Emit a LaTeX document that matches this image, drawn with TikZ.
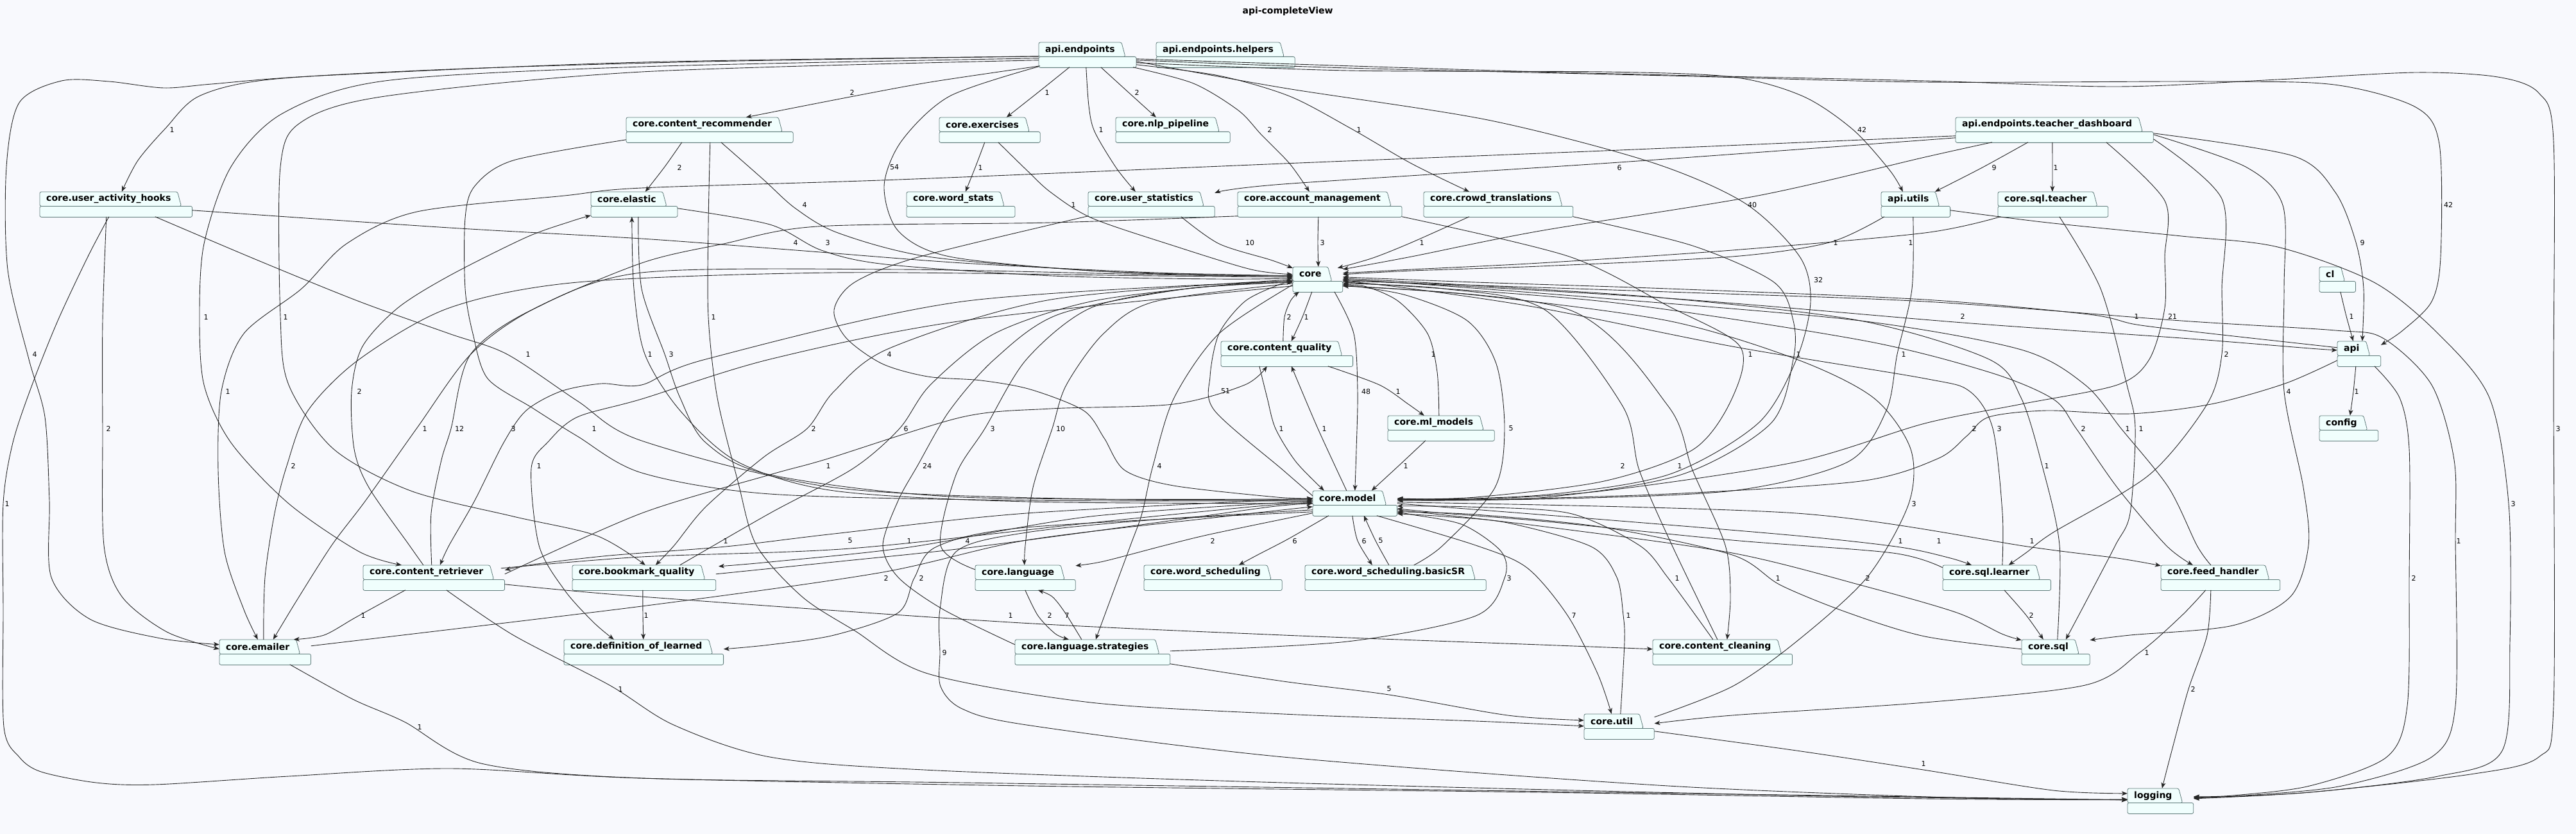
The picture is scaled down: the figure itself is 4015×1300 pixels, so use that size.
\documentclass[tikz,border=0pt]{standalone}
\usepackage{fontspec}
\setmainfont{DejaVu Sans}
\usetikzlibrary{arrows.meta,fit,backgrounds}

\definecolor{bgc}{HTML}{F8F9FD}
\definecolor{pkgfill}{HTML}{F0FEFD}
\definecolor{pkgdraw}{HTML}{5F7B7A}
\definecolor{linec}{HTML}{262626}

\tikzset{
  pkgtab/.style={anchor=north west, inner xsep=0pt, inner ysep=0pt, minimum height=22pt,
    font=\fontsize{14}{16}\selectfont\bfseries},
  pkgline/.style={draw=pkgdraw, fill=pkgfill, line width=0.8pt, rounded corners=2.5pt},
  dep/.style={draw=linec, line width=0.9pt, -{Stealth[length=9pt,width=7pt,inset=2.5pt]}},
  lbl/.style={font=\fontsize{11}{13}\selectfont, inner sep=0pt}
}

\newcommand\pkg[4]{%
  \node[pkgtab] (#1t) at (#2,#3) {\kern10pt#4\kern16pt};
  \coordinate (#1c) at ([shift={(17,17)}]#1t.south east);
  \begin{pgfonlayer}{background}
    \path[pkgline] (#1t.south west) rectangle (#1c);
    \path[pkgline] (#1t.south west) -- (#1t.north west) -- ([xshift=-6pt]#1t.north east) -- (#1t.south east) -- cycle;
  \end{pgfonlayer}
  \node[fit=(#1t)(#1c), inner sep=0pt] (#1) {};
}
\newcommand\nwp[3]{([shift={(#2,#3)}]#1.north west)}
\newcommand\nep[3]{([shift={(#2,#3)}]#1.north east)}
\newcounter{lbn}
\newcommand\dep[5]{%
  \edef\deppath{\noexpand\draw[dep] plot[smooth] coordinates {#1 #2 #3};}\deppath
  \stepcounter{lbn}\node[lbl] (lb\arabic{lbn}) at (#4) {#5};
}

\begin{document}
\begin{tikzpicture}[x=1pt,y=-1pt]
\begin{pgfonlayer}{background}
  \fill[bgc] (0,0) rectangle (4015,1300);
\end{pgfonlayer}
\useasboundingbox (0,0) rectangle (4015,1300);

\node[font=\fontsize{14}{16}\selectfont\bfseries] (title) at (2007,18) {api-completeView};

\pkg{ep}{1619}{66}{api.endpoints}
\pkg{eph}{1802}{66}{api.endpoints.helpers}
\pkg{rec}{976}{183}{core.content\_recommender}
\pkg{ex}{1464}{183}{core.exercises}
\pkg{nlp}{1739}{183}{core.nlp\_pipeline}
\pkg{td}{3048}{183}{api.endpoints.teacher\_dashboard}
\pkg{hooks}{62}{299}{core.user\_activity\_hooks}
\pkg{el}{921}{299}{core.elastic}
\pkg{ws}{1413}{299}{core.word\_stats}
\pkg{us}{1696}{299}{core.user\_statistics}
\pkg{am}{1929}{299}{core.account\_management}
\pkg{ct}{2219}{299}{core.crowd\_translations}
\pkg{au}{2932}{299}{api.utils}
\pkg{sqt}{3114}{299}{core.sql.teacher}
\pkg{core}{2015}{416}{core}
\pkg{cl}{3615}{416}{cl}
\pkg{cq}{1903}{532}{core.content\_quality}
\pkg{api}{3643}{532}{api}
\pkg{ml}{2163}{648}{core.ml\_models}
\pkg{cfg}{3615}{648}{config}
\pkg{model}{2046}{765}{core.model}
\pkg{cr}{566}{881}{core.content\_retriever}
\pkg{bq}{892}{881}{core.bookmark\_quality}
\pkg{lang}{1520}{881}{core.language}
\pkg{wsch}{1783}{881}{core.word\_scheduling}
\pkg{basic}{2034}{881}{core.word\_scheduling.basicSR}
\pkg{sqll}{3028}{881}{core.sql.learner}
\pkg{fh}{3368}{881}{core.feed\_handler}
\pkg{em}{342}{997}{core.emailer}
\pkg{dol}{879}{997}{core.definition\_of\_learned}
\pkg{strat}{1582}{997}{core.language.strategies}
\pkg{cc}{2576}{997}{core.content\_cleaning}
\pkg{sql}{3151}{997}{core.sql}
\pkg{util}{2469}{1113}{core.util}
\pkg{log}{3316}{1229}{logging}

% api.endpoints
\dep{\nwp{ep}{0}{22}}{(1100,96) (700,108) (420,124) (310,150) (258,200) (215,250)}{\nwp{hooks}{128}{0}}{268,202}{1}
\dep{\nwp{ep}{0}{22}}{(1000,97) (500,118) (330,131) (255,137) (170,127) (96,126) (30,160) (10,260) (12,420) (45,560) (70,650) (77,780) (80,900) (140,965) (250,995)}{\nwp{em}{0}{8}}{54,552}{4}
\dep{\nwp{ep}{0}{25}}{(1000,104) (600,126) (440,177) (360,260) (318,380) (311,494) (318,600) (360,690) (450,785) (560,860)}{\nwp{cr}{60}{0}}{321,494}{1}
\dep{\nwp{ep}{0}{28}}{(1000,112) (600,150) (470,190) (437,260) (437,494) (450,600) (520,700) (640,765) (800,805) (930,835)}{\nwp{bq}{114}{0}}{445,494}{1}
\dep{\nwp{ep}{2}{37}}{(1450,128) (1320,152)}{\nwp{rec}{187}{0}}{1328,144}{2}
\dep{\nwp{ep}{0}{38}}{(1480,150) (1405,220) (1378,290) (1400,360) (1480,400) (1700,422) (1900,428)}{\nwp{core}{0}{14}}{1394,261}{54}
\dep{\nwp{ep}{48}{39}}{(1618,144)}{\nwp{ex}{105}{0}}{1632,144}{1}
\dep{\nwp{ep}{97}{39}}{(1760,145)}{\nwp{nlp}{63}{0}}{1772,144}{2}
\dep{\nwp{ep}{74}{39}}{(1697,165) (1706,205) (1740,262)}{\nwp{us}{74}{0}}{1716,202}{1}
\dep{\nep{ep}{-5}{39}}{(1860,130) (1930,172) (1966,210) (2010,255)}{\nwp{am}{112}{0}}{1979,202}{2}
\dep{\nep{ep}{0}{35}}{(1900,118) (2010,150) (2105,200) (2200,255)}{\nwp{ct}{71}{0}}{2118,202}{1}
\dep{\nep{ep}{0}{32}}{(2100,110) (2500,112) (2700,120) (2810,150) (2888,202) (2945,265)}{\nwp{au}{34}{0}}{2902,202}{42}
\dep{\nep{ep}{0}{30}}{(2000,137) (2319,187) (2574,253) (2720,317) (2805,400) (2822,470) (2800,560) (2740,660) (2600,740) (2400,772)}{\nep{model}{0}{14}}{2834,436}{32}
\dep{\nep{ep}{0}{28}}{(2100,106) (2600,118) (3000,128) (3446,127) (3638,132) (3765,167) (3802,225) (3804,400) (3790,470) (3745,515)}{\nep{api}{0}{6}}{3816,319}{42}
\dep{\nep{ep}{0}{26}}{(2400,112) (3000,126) (3300,135) (3550,124) (3765,113) (3893,120) (3957,145) (3980,220) (3980,600) (3980,1100) (3957,1180) (3850,1207) (3600,1235)}{\nep{log}{0}{16}}{3987,668}{3}

% core.content_recommender, core.user_activity_hooks, core.exercises, core.elastic
\dep{\nwp{rec}{87}{39}}{(1036,260)}{\nwp{el}{85}{0}}{1059,261}{2}
\dep{\nwp{rec}{148}{39}}{(1190,280) (1240,325) (1306,363) (1446,400) (1700,422) (1900,430)}{\nwp{core}{0}{16}}{1254,319}{4}
\dep{\nwp{rec}{131}{39}}{(1104,350) (1104,494) (1118,620) (1150,750) (1179,850) (1250,930) (1332,983) (1446,1050) (1700,1095) (2000,1113) (2300,1124)}{\nwp{util}{0}{19}}{1112,494}{1}
\dep{\nwp{rec}{0}{35}}{(800,250) (740,290) (725,340) (725,450) (737,520) (760,590) (830,636) (900,680) (1000,737) (1200,770) (1600,780)}{\nwp{model}{0}{16}}{926,668}{1}
\dep{\nwp{hooks}{104}{39}}{(160,500) (160,668) (162,850) (190,930) (260,985)}{\nwp{em}{0}{15}}{169,668}{2}
\dep{\nwp{hooks}{108}{39}}{(137,400) (90,500) (50,600) (20,690) (5,785) (5,950) (6,1133) (30,1180) (64,1203) (150,1220) (242,1223) (450,1210) (702,1198) (1000,1213) (1600,1225) (2400,1235) (3000,1245)}{\nwp{log}{0}{18}}{11,785}{1}
\dep{\nwp{hooks}{180}{39}}{(400,405) (560,470) (700,520) (790,552) (900,625) (1000,687) (1300,760) (1700,778)}{\nwp{model}{0}{14}}{823,552}{1}
\dep{\nep{hooks}{0}{29}}{(700,355) (1000,372) (1240,390) (1500,410) (1800,425)}{\nwp{core}{0}{14}}{1240,378}{4}
\dep{\nwp{ex}{71}{39}}{(1520,261)}{\nwp{ws}{92}{0}}{1528,261}{1}
\dep{\nwp{ex}{92}{39}}{(1600,265) (1638,300) (1702,340) (1829,383) (1950,420)}{\nwp{core}{0}{12}}{1673,319}{1}
\dep{\nep{el}{0}{26}}{(1200,350) (1280,390) (1380,412) (1640,430) (1900,435)}{\nwp{core}{0}{18}}{1290,378}{3}
\dep{\nwp{el}{74}{39}}{(1000,450) (1036,552) (1060,620) (1100,690) (1200,740) (1500,775)}{\nwp{model}{0}{13}}{1046,552}{3}
\dep{\nwp{model}{0}{20}}{(1600,782) (1300,765) (1150,720) (1060,640) (1005,552) (988,450)}{\nwp{el}{64}{39}}{1013,552}{1}

% user_statistics, account_management, crowd_translations, api.utils
\dep{\nwp{us}{145}{39}}{(1900,380) (1980,405)}{\nwp{core}{0}{2}}{1948,378}{10}
\dep{\nwp{us}{0}{38}}{(1434,400) (1332,440) (1300,483) (1319,527) (1375,567) (1446,587) (1529,593) (1606,607) (1689,640) (1721,683) (1753,733) (1829,757) (1990,775)}{\nwp{model}{0}{12}}{1386,552}{4}
\dep{\nwp{am}{126}{39}}{(2054,378)}{\nwp{core}{40}{0}}{2061,378}{3}
\dep{\nwp{am}{0}{38}}{(1638,347) (1274,353) (1128,380) (1000,410) (829,483) (733,553) (650,667) (570,780) (517,850) (460,940)}{\nwp{em}{84}{0}}{662,668}{1}
\dep{\nep{am}{0}{39}}{(2446,400) (2600,477) (2712,540) (2700,620) (2640,700) (2500,750) (2300,775)}{\nep{model}{0}{13}}{2728,552}{1}
\dep{\nwp{ct}{71}{39}}{(2200,378) (2140,402)}{\nwp{core}{70}{2}}{2216,378}{1}
\dep{\nep{ct}{0}{39}}{(2638,383) (2765,440) (2795,500) (2795,560) (2760,660) (2620,740) (2400,776)}{\nep{model}{0}{15}}{2803,552}{1}
\dep{\nwp{au}{5}{39}}{(2851,378) (2700,400) (2400,415) (2200,422)}{\nep{core}{0}{12}}{2861,378}{1}
\dep{\nwp{au}{50}{39}}{(2980,450) (2957,552) (2940,640) (2880,720) (2700,765) (2400,778)}{\nep{model}{0}{14}}{2967,552}{1}
\dep{\nep{au}{0}{29}}{(3191,347) (3400,368) (3550,385) (3700,440) (3800,520) (3880,620) (3910,785) (3912,1000) (3900,1170) (3800,1210) (3600,1235)}{\nep{log}{0}{15}}{3917,785}{3}

% teacher_dashboard, sql.teacher, cl, api
\dep{\nwp{td}{0}{32}}{(2524,253) (2000,287)}{\nep{us}{0}{2}}{2524,261}{6}
\dep{\nwp{td}{113}{39}}{(3088,262)}{\nwp{au}{84}{0}}{3108,261}{9}
\dep{\nwp{td}{151}{39}}{(3199,261)}{\nwp{sqt}{85}{0}}{3204,261}{1}
\dep{\nwp{td}{57}{39}}{(3000,245) (2740,305) (2400,360) (2200,400)}{\nep{core}{0}{4}}{2731,319}{40}
\dep{\nwp{td}{235}{39}}{(3374,313) (3374,400) (3374,480) (3350,560) (3300,600) (3150,630) (3000,660) (2800,720) (2500,765) (2300,778)}{\nep{model}{0}{12}}{3386,493}{21}
\dep{\nep{td}{0}{34}}{(3463,310) (3463,450) (3463,552) (3440,630) (3350,740) (3200,830) (3160,860)}{\nwp{sqll}{103}{0}}{3470,552}{2}
\dep{\nep{td}{0}{27}}{(3500,260) (3558,320) (3560,450) (3560,610) (3590,760) (3598,850) (3570,930) (3480,975) (3320,990)}{\nep{sql}{0}{1}}{3567,610}{4}
\dep{\nep{td}{0}{25}}{(3574,243) (3640,300) (3672,378) (3684,450)}{\nwp{api}{39}{0}}{3682,378}{9}
\dep{\nwp{sqt}{4}{39}}{(3000,363) (2700,390) (2400,410) (2200,420)}{\nep{core}{0}{10}}{2978,378}{1}
\dep{\nwp{sqt}{96}{39}}{(3274,450) (3315,600) (3328,668) (3320,800) (3297,850) (3250,940)}{\nwp{sql}{69}{0}}{3337,668}{1}
\dep{\nwp{cl}{33}{39}}{(3657,493)}{\nwp{api}{25}{0}}{3665,493}{1}
\dep{\nwp{api}{29}{39}}{(3668,610)}{\nwp{cfg}{48}{0}}{3673,610}{1}
\dep{\nwp{api}{58}{39}}{(3740,620) (3755,700) (3755,900) (3752,1100) (3720,1180) (3600,1225) (3480,1240)}{\nep{log}{0}{13}}{3762,901}{2}
\dep{\nep{core}{0}{20}}{(2600,465) (3059,503) (3400,527) (3600,543)}{\nwp{api}{0}{14}}{3059,493}{2}
\dep{\nwp{api}{0}{10}}{(3446,520) (3330,506) (3255,490) (3000,467) (2600,450) (2300,440)}{\nep{core}{0}{16}}{3330,493}{1}
\dep{\nwp{api}{0}{30}}{(3561,598) (3446,630) (3320,645) (3190,640) (3100,650) (3065,680) (3020,715) (2900,750) (2600,770) (2300,779)}{\nep{model}{0}{15}}{3077,668}{2}

% sql.learner, sql, feed_handler, util
\dep{\nwp{sqll}{93}{0}}{(3121,800) (3106,668) (3070,610) (3000,590) (2700,540) (2400,480) (2200,450)}{\nep{core}{0}{22}}{3116,668}{3}
\dep{\nwp{sqll}{96}{39}}{(3158,959)}{\nwp{sql}{34}{0}}{3166,959}{2}
\dep{\nwp{sql}{56}{0}}{(3210,850) (3183,726) (3150,620) (3100,560) (2900,500) (2600,465) (2300,445)}{\nep{core}{0}{18}}{3190,726}{1}
\dep{\nep{model}{0}{30}}{(2400,820) (2700,862) (2911,915) (3050,955) (3120,988)}{\nwp{sql}{0}{1}}{2911,901}{2}
\dep{\nwp{sql}{0}{15}}{(3000,992) (2880,955) (2775,912) (2700,865) (2500,822) (2300,802)}{\nep{model}{0}{33}}{2771,901}{1}
\dep{\nep{model}{0}{20}}{(2500,810) (2800,835) (2962,853) (3040,870)}{\nwp{sqll}{45}{0}}{2962,843}{1}
\dep{\nwp{sqll}{0}{4}}{(2950,862) (2700,842) (2400,812) (2250,800)}{\nep{model}{0}{28}}{3022,843}{1}
\dep{\nep{model}{0}{18}}{(2800,800) (3167,853) (3300,870)}{\nwp{fh}{0}{1}}{3167,843}{1}
\dep{\nep{core}{0}{24}}{(2500,470) (2900,530) (3100,580) (3200,622) (3236,668) (3300,760) (3376,850)}{\nwp{fh}{50}{0}}{3247,668}{2}
\dep{\nwp{fh}{78}{0}}{(3424,850) (3380,760) (3306,668) (3250,600) (3150,545) (2900,500) (2500,465) (2200,442)}{\nep{core}{0}{20}}{3316,668}{1}
\dep{\nwp{fh}{70}{39}}{(3400,960) (3335,1017) (3250,1068) (3000,1095) (2700,1115)}{\nep{util}{0}{15}}{3346,1017}{1}
\dep{\nwp{fh}{78}{39}}{(3440,990) (3411,1074) (3385,1170)}{\nwp{log}{54}{0}}{3418,1074}{2}
\dep{\nep{util}{0}{27}}{(2800,1170) (2998,1200) (3200,1232)}{\nwp{log}{0}{8}}{2998,1190}{1}
\dep{\nep{core}{0}{22}}{(2600,455) (3000,470) (3400,500) (3640,515) (3714,527) (3790,600) (3825,717) (3827,843) (3827,1100) (3790,1180) (3650,1225) (3500,1240)}{\nep{log}{0}{14}}{3832,843}{1}
\dep{\nep{util}{0}{5}}{(2700,1070) (2800,1000) (2910,900) (2975,785) (2978,700) (2920,620) (2800,560) (2600,500) (2300,460)}{\nep{core}{0}{30}}{2983,785}{3}

% core, core.model and their neighbours
\dep{\nwp{core}{30}{39}}{(2030,494)}{\nwp{cq}{110}{0}}{2036,494}{1}
\dep{\nwp{cq}{97}{0}}{(2002,494) (2012,468)}{\nwp{core}{10}{39}}{2009,494}{2}
\dep{\nwp{core}{65}{39}}{(2110,520) (2116,610) (2114,700)}{\nwp{model}{66}{0}}{2129,610}{48}
\dep{\nwp{model}{0}{8}}{(2000,733) (1893,640) (1886,587) (1900,520) (1940,470) (1990,445)}{\nwp{core}{0}{22}}{1910,610}{51}
\dep{\nwp{cq}{167}{39}}{(2150,600) (2195,630)}{\nwp{ml}{57}{0}}{2179,610}{1}
\dep{\nwp{ml}{80}{0}}{(2240,580) (2225,520) (2180,470) (2130,447)}{\nep{core}{0}{28}}{2234,552}{1}
\dep{\nwp{ml}{59}{39}}{(2180,726)}{\nwp{model}{92}{0}}{2191,726}{1}
\dep{\nwp{model}{53}{0}}{(2054,668)}{\nwp{cq}{110}{39}}{2064,668}{1}
\dep{\nwp{cq}{60}{39}}{(1975,620) (1988,668) (2020,720)}{\nwp{model}{18}{0}}{1997,668}{1}
\dep{\nwp{basic}{170}{0}}{(2249,850) (2330,760) (2345,668) (2332,567) (2287,500) (2191,460)}{\nep{core}{0}{28}}{2355,668}{5}
\dep{\nwp{model}{62}{39}}{(2116,843)}{\nwp{basic}{105}{0}}{2126,843}{6}
\dep{\nwp{basic}{131}{0}}{(2144,843)}{\nwp{model}{80}{39}}{2152,843}{5}
\dep{\nwp{model}{25}{39}}{(2008,840) (1960,865)}{\nwp{wsch}{148}{0}}{2018,843}{6}
\dep{\nwp{model}{0}{35}}{(1890,832) (1816,850) (1720,875)}{\nep{lang}{0}{1}}{1890,843}{2}
\dep{\nwp{core}{0}{26}}{(1800,470) (1720,520) (1662,600) (1640,668) (1610,760) (1598,850)}{\nwp{lang}{77}{0}}{1653,668}{10}
\dep{\nwp{lang}{0}{7}}{(1466,850) (1490,740) (1535,668) (1600,560) (1700,480) (1850,450)}{\nwp{core}{0}{24}}{1547,668}{3}
\dep{\nwp{lang}{78}{39}}{(1618,960) (1645,988)}{\nwp{strat}{84}{0}}{1636,959}{2}
\dep{\nwp{strat}{104}{0}}{(1660,955) (1640,930)}{\nwp{lang}{98}{39}}{1663,959}{7}
\dep{\nwp{core}{0}{28}}{(1900,520) (1830,620) (1797,726) (1780,800) (1762,850) (1725,950)}{\nwp{strat}{126}{0}}{1807,726}{4}
\dep{\nwp{strat}{0}{8}}{(1470,950) (1400,900) (1376,850) (1400,780) (1430,726) (1480,640) (1550,560) (1650,490) (1850,450)}{\nwp{core}{0}{24}}{1445,726}{24}
\dep{\nwp{bq}{168}{0}}{(1200,800) (1330,730) (1402,668) (1450,600) (1550,520) (1700,470) (1900,445)}{\nwp{core}{0}{22}}{1412,668}{6}
\dep{\nep{strat}{0}{18}}{(2100,1000) (2300,960) (2345,901) (2340,860) (2280,818) (2200,802)}{\nep{model}{0}{34}}{2352,901}{3}
\dep{\nep{strat}{0}{38}}{(2000,1062) (2165,1083) (2350,1115)}{\nwp{util}{0}{10}}{2165,1074}{5}
\dep{\nwp{model}{100}{39}}{(2300,850) (2380,885) (2443,959) (2490,1050)}{\nwp{util}{43}{0}}{2453,959}{7}
\dep{\nwp{util}{57}{0}}{(2532,1000) (2530,959) (2520,900) (2480,852) (2350,815) (2250,805)}{\nep{model}{0}{36}}{2538,959}{1}
\dep{\nwp{cc}{94}{0}}{(2600,901) (2555,850) (2446,800) (2287,790)}{\nep{model}{0}{24}}{2614,901}{1}
\dep{\nwp{cc}{101}{0}}{(2606,850) (2555,733) (2529,633) (2408,483) (2250,450)}{\nep{core}{0}{26}}{2529,726}{2}
\dep{\nep{core}{0}{30}}{(2446,483) (2600,633) (2638,733) (2689,850) (2697,930)}{\nwp{cc}{116}{0}}{2618,726}{1}
\dep{\nep{cr}{0}{30}}{(1000,930) (1575,970) (2000,990) (2400,1005)}{\nwp{cc}{0}{15}}{1575,959}{1}
\dep{\nwp{model}{0}{30}}{(1800,810) (1600,830) (1490,860) (1465,950) (1465,1017) (1466,1070) (1500,1105) (1600,1130) (2000,1180) (2600,1225) (3100,1245)}{\nwp{log}{0}{17}}{1472,1017}{9}

% content_retriever, bookmark_quality, emailer, definition_of_learned
\dep{\nwp{cr}{130}{39}}{(800,990) (950,1068) (1050,1130) (1200,1180) (1440,1200) (2000,1220) (2800,1240)}{\nwp{log}{0}{18}}{967,1074}{1}
\dep{\nwp{em}{110}{39}}{(550,1090) (630,1125) (750,1190) (1000,1213) (1500,1220) (2500,1235)}{\nwp{log}{0}{18}}{654,1133}{1}
\dep{\nwp{cr}{66}{39}}{(555,962) (505,990)}{\nwp{em}{116}{0}}{566,959}{1}
\dep{\nwp{bq}{110}{39}}{(1002,959)}{\nwp{dol}{124}{0}}{1007,959}{1}
\dep{\nwp{core}{0}{30}}{(1500,500) (1200,560) (1000,622) (900,650) (855,688) (828,730) (840,850) (880,920) (925,970)}{\nwp{dol}{78}{0}}{840,726}{1}
\dep{\nwp{model}{0}{33}}{(1600,822) (1460,852) (1425,901) (1400,955) (1300,990) (1200,1005)}{\nep{dol}{0}{15}}{1436,901}{2}
\dep{\nep{em}{0}{10}}{(1000,945) (1370,893) (1600,842) (1900,806)}{\nwp{model}{0}{25}}{1381,901}{2}
\dep{\nwp{model}{0}{12}}{(1600,800) (1300,832) (1131,852) (950,866) (830,880)}{\nep{cr}{0}{8}}{1131,843}{1}
\dep{\nep{cr}{-6}{5}}{(1000,868) (1325,855) (1700,815) (1950,790)}{\nwp{model}{0}{18}}{1325,843}{5}
\dep{\nwp{model}{0}{16}}{(1700,805) (1417,853) (1200,876)}{\nep{bq}{4}{2}}{1417,843}{1}
\dep{\nep{bq}{0}{14}}{(1300,876) (1508,854) (1800,815) (1980,790)}{\nwp{model}{0}{20}}{1508,843}{4}
\dep{\nwp{core}{0}{20}}{(1638,467) (1386,543) (1300,610) (1258,668) (1191,712) (1100,790) (1051,850)}{\nwp{bq}{130}{0}}{1268,668}{2}
\dep{\nwp{cr}{94}{0}}{(638,850) (575,760) (552,700) (548,610) (565,540) (620,480) (700,430) (820,370) (890,345)}{\nwp{el}{0}{37}}{560,610}{2}
\dep{\nwp{td}{0}{29}}{(2500,235) (2000,255) (1400,280) (1000,293) (880,305) (650,330) (540,380) (470,450) (380,520) (345,610) (340,733) (350,860) (380,950)}{\nwp{em}{60}{0}}{355,610}{1}
\dep{\nwp{cr}{107}{0}}{(672,800) (688,717) (703,668) (733,553) (829,483) (1000,425) (1400,420) (1800,428)}{\nwp{core}{0}{14}}{716,668}{12}
\dep{\nwp{core}{0}{22}}{(1500,470) (1100,560) (1000,600) (937,598) (874,610) (820,640) (785,690) (740,780) (700,850)}{\nwp{cr}{120}{0}}{800,668}{3}
\dep{\nep{cr}{0}{14}}{(1000,800) (1200,740) (1287,716) (1500,650) (1638,637) (1829,630) (1940,600)}{\nwp{cq}{72}{39}}{1291,726}{1}
\dep{\nwp{em}{69}{0}}{(413,900) (428,800) (447,726) (480,640) (560,560) (700,480) (900,440) (1300,425) (1800,430)}{\nwp{core}{0}{16}}{457,726}{2}

\end{tikzpicture}
\end{document}
